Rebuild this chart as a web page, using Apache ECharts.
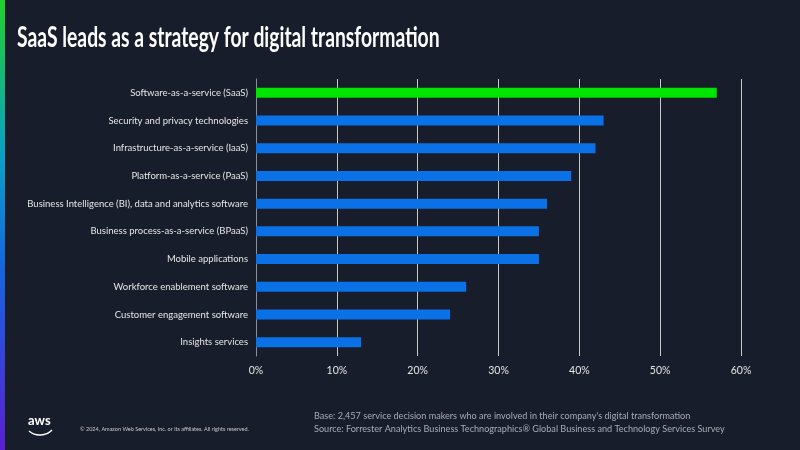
<!DOCTYPE html>
<html>
<head>
<meta charset="utf-8">
<script src="https://cdn.jsdelivr.net/npm/echarts@6/dist/echarts.min.js"></script>
<style>
  html, body { margin: 0; padding: 0; background: #181d2b; }
  #chart { width: 800px; height: 450px; }
</style>
</head>
<body>
<div id="chart"></div>
<script>
// 数据
const categories = [
  "Software-as-a-service (SaaS)",
  "Security and privacy technologies",
  "Infrastructure-as-a-service (IaaS)",
  "Platform-as-a-service (PaaS)",
  "Business Intelligence (BI), data and analytics software",
  "Business process-as-a-service (BPaaS)",
  "Mobile applications",
  "Workforce enablement software",
  "Customer engagement software",
  "Insights services",
];
const values = [57, 43, 42, 39, 36, 35, 35, 26, 24, 13];
const highlightIndex = 0; // 绿色高亮的那根
const tickMax = 60;
const tickStep = 10;

const font = "Lato, 'Open Sans', sans-serif";

const chart = echarts.init(document.getElementById("chart"), null, { renderer: "canvas" });

chart.setOption({
  backgroundColor: "#181d2b",
  animation: false,
  grid: {
    left: 256,
    right: 59,
    top: 79,
    bottom: 94,
    outerBoundsMode: "none",
    containLabel: false,
  },
  xAxis: {
    type: "value",
    min: 0,
    max: tickMax,
    interval: tickStep,
    axisLabel: {
      color: "#e6e6e6",
      fontFamily: font,
      fontSize: 10.5,
      margin: 9,
      formatter: "{value}%",
    },
    axisLine: { show: false },
    axisTick: { show: false },
    splitLine: {
      lineStyle: { color: "#c8c8c8", width: 1 },
    },
  },
  yAxis: {
    type: "category",
    inverse: true,
    data: categories,
    axisLine: { show: true, lineStyle: { color: "#8a8f99", width: 1 } },
    axisTick: { show: false },
    axisLabel: {
      color: "#e6e6e6",
      fontFamily: font,
      fontSize: 9.5,
      margin: 8,
    },
  },
  series: [
    {
      type: "bar",
      barWidth: 10,
      data: values.map((v, i) => ({
        value: v,
        itemStyle: { color: i === highlightIndex ? "#00e500" : "#0a72e6" },
      })),
    },
  ],
  graphic: [
    // 左侧渐变条
    {
      type: "rect",
      left: 0,
      top: 0,
      shape: { width: 5, height: 450 },
      style: {
        fill: new echarts.graphic.LinearGradient(0, 0, 0, 1, [
          { offset: 0, color: "#1fd12a" },
          { offset: 0.35, color: "#0aa0c8" },
          { offset: 0.6, color: "#1565e0" },
          { offset: 1, color: "#5a1fd0" },
        ]),
      },
    },
    // 标题（字体偏宽，横向压一下）
    {
      type: "text",
      x: 17,
      y: 24,
      scaleX: 0.69,
      style: {
        text: "SaaS leads as a strategy for digital transformation",
        fill: "#ffffff",
        font: "bold 28px " + font,
      },
    },
    // aws 标志
    {
      type: "text",
      left: 28,
      top: 414,
      style: {
        text: "aws",
        fill: "#ffffff",
        font: "bold 13px " + font,
      },
    },
    {
      type: "bezierCurve",
      shape: { x1: 29, y1: 431, cpx1: 36, cpy1: 437, cpx2: 46, cpy2: 436, x2: 52, y2: 430 },
      style: { stroke: "#ffffff", lineWidth: 1.5, fill: null },
    },
    {
      type: "text",
      left: 80,
      top: 426,
      style: {
        text: "© 2024, Amazon Web Services, Inc. or its affiliates. All rights reserved.",
        fill: "#c8c8c8",
        font: "5.5px " + font,
      },
    },
    {
      type: "text",
      x: 314,
      y: 409,
      scaleX: 0.91,
      style: {
        text: "Base: 2,457 service decision makers who are involved in their company's digital transformation\nSource: Forrester Analytics Business Technographics® Global Business and Technology Services Survey",
        fill: "#a9adb5",
        font: "10px " + font,
        lineHeight: 13,
      },
    },
  ],
});
</script>
</body>
</html>
